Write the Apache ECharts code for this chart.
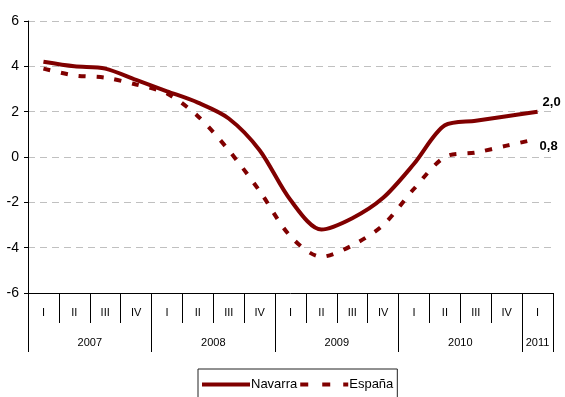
<!DOCTYPE html>
<html>
<head>
<meta charset="utf-8">
<style>
  html, body { margin: 0; padding: 0; background: #fff; }
  #chart { width: 565px; height: 397px; }
</style>
<script src="https://cdn.jsdelivr.net/npm/echarts@6/dist/echarts.min.js"></script>
</head>
<body>
<div id="chart"></div>
<script>
// Quarterly categories, grouped by year
const quarters = ['I', 'II', 'III', 'IV', 'I', 'II', 'III', 'IV', 'I', 'II', 'III', 'IV',
                  'I', 'II', 'III', 'IV', 'I'];
const years = ['2007', '2008', '2009', '2010', '2011'];
const quartersPerYear = [4, 4, 4, 4, 1];

// Year-on-year change (%)
const navarra = [4.2, 4.0, 3.9, 3.4, 2.9, 2.4, 1.7, 0.3, -1.9, -3.2, -2.7, -1.8, -0.3, 1.4, 1.6, 1.8, 2.0];
const espana  = [3.9, 3.6, 3.5, 3.2, 2.8, 1.8, 0.3, -1.5, -3.5, -4.4, -3.9, -3.0, -1.4, 0.0, 0.2, 0.5, 0.8];

const yTicks = [-6, -4, -2, 0, 2, 4, 6];

// Year boundaries and year-label centres along the quarter index scale
const yearBounds = [0];
const yearCentres = [];
quartersPerYear.forEach(function (n, i) {
  const start = yearBounds[i];
  yearBounds.push(start + n);
  yearCentres.push(start + n / 2);
});

const FONT = '"Liberation Sans", Arial, sans-serif';
const RED = '#800000';

// Legend swatches: a solid bar and a row of dashes
const SOLID_ICON = 'path://M0,0H48V4H0Z';
const DASH_ICON = 'path://M0,0H8V4H0Z M22,0H30V4H22Z M43,0H48V4H43Z';

function fmt(v) {
  return Number(v).toFixed(1).replace('.', ',');
}

const chart = echarts.init(document.getElementById('chart'), null, { renderer: 'canvas' });

chart.setOption({
  animation: false,
  backgroundColor: '#ffffff',
  textStyle: { fontFamily: FONT },
  grid: { left: 28, right: 12, top: 21, bottom: 104, containLabel: false },
  legend: {
    left: 198,
    top: 369,
    orient: 'horizontal',
    padding: [9, 4, 14, 4],
    itemGap: 3,
    itemWidth: 48,
    itemHeight: 4,
    borderColor: '#222',
    borderWidth: 1,
    textStyle: { fontFamily: FONT, fontSize: 13, color: '#000', padding: [0, 0, 0, -4] },
    data: [
      { name: 'Navarra', icon: SOLID_ICON },
      { name: 'España', icon: DASH_ICON }
    ]
  },
  xAxis: [
    {
      type: 'category',
      data: quarters,
      boundaryGap: true,
      position: 'bottom',
      axisLine: { show: true, onZero: false, lineStyle: { color: '#000', width: 1 } },
      axisTick: { show: true, interval: 0, length: 30, lineStyle: { color: '#000', width: 1 } },
      axisLabel: { interval: 0, margin: 14, fontFamily: FONT, fontSize: 11, color: '#000' },
      splitLine: { show: false }
    },
    {
      type: 'value',
      min: 0,
      max: quarters.length,
      position: 'bottom',
      axisLine: { show: false, onZero: false },
      axisTick: {
        show: true,
        customValues: yearBounds,
        length: 59,
        lineStyle: { color: '#000', width: 1 }
      },
      axisLabel: {
        customValues: yearCentres,
        margin: 44,
        fontFamily: FONT,
        fontSize: 11,
        color: '#000',
        formatter: function (v) {
          const idx = yearCentres.indexOf(v);
          return idx >= 0 ? years[idx] : '';
        }
      },
      splitLine: { show: false }
    }
  ],
  yAxis: {
    type: 'value',
    min: yTicks[0],
    max: yTicks[yTicks.length - 1],
    interval: 2,
    axisLine: { show: true, lineStyle: { color: '#000', width: 1 } },
    axisTick: { show: true, length: 4, lineStyle: { color: '#000' } },
    axisLabel: { margin: 9, fontFamily: FONT, fontSize: 14, color: '#000' },
    splitLine: { show: true, lineStyle: { color: '#c0c0c0', width: 1, type: [7, 5] } }
  },
  series: [
    {
      name: 'Navarra',
      type: 'line',
      xAxisIndex: 0,
      data: navarra,
      smooth: 0.3,
      symbol: 'none',
      lineStyle: { color: RED, width: 4 },
      itemStyle: { color: RED },
      endLabel: {
        show: true,
        distance: 0,
        offset: [5, -9],
        formatter: function (p) { return fmt(p.value); },
        fontFamily: FONT,
        fontSize: 13,
        fontWeight: 'bold',
        color: '#000'
      },
      z: 3
    },
    {
      name: 'España',
      type: 'line',
      xAxisIndex: 0,
      data: espana,
      smooth: 0.3,
      symbol: 'none',
      lineStyle: { color: RED, width: 4, type: [7, 11] },
      itemStyle: { color: RED },
      endLabel: {
        show: true,
        distance: 0,
        offset: [2, 8],
        formatter: function (p) { return fmt(p.value); },
        fontFamily: FONT,
        fontSize: 13,
        fontWeight: 'bold',
        color: '#000'
      },
      z: 2
    }
  ]
});
</script>
</body>
</html>
